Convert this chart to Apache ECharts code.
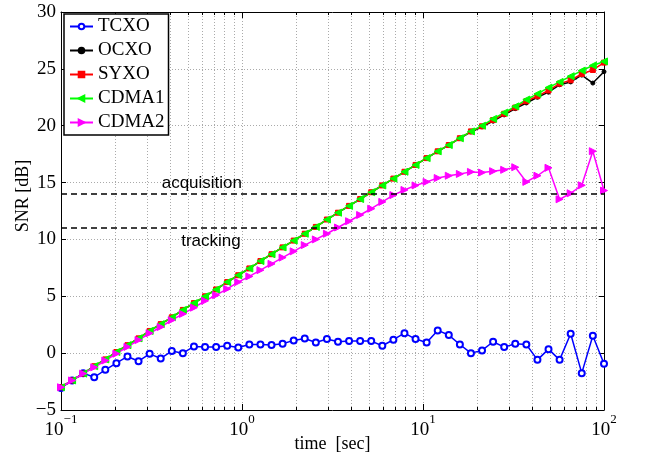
<!DOCTYPE html>
<html><head><meta charset="utf-8">
<script src="https://cdn.jsdelivr.net/npm/echarts@6/dist/echarts.min.js"></script>
<style>html,body{margin:0;padding:0;background:#fff}#c{width:645px;height:460px}</style>
</head><body><div id="c"></div>
<script>
// time samples [sec]
const times = [0.1,0.11514,0.13256,0.15262,0.17573,0.20233,0.23295,0.26821,0.30881,0.35556,
  0.40938,0.47135,0.5427,0.62485,0.71943,0.82834,0.95372,1.0981,1.2643,1.4557,
  1.676,1.9297,2.2218,2.5581,2.9453,3.3911,3.9045,4.4955,5.176,5.9594,
  6.8615,7.9001,9.096,10.473,12.058,13.883,15.985,18.404,21.19,24.398,
  28.091,32.343,37.239,42.876,49.366,56.839,65.443,75.349,86.755,100];
const tcxo = [-3.06,-2.41,-1.76,-2.12,-1.47,-0.88,-0.29,-0.71,-0.06,-0.47,
  0.18,0.0,0.59,0.53,0.53,0.65,0.5,0.76,0.76,0.71,
  0.82,1.12,1.29,0.94,1.24,1.0,1.06,1.06,1.06,0.65,
  1.18,1.76,1.24,0.94,2.0,1.59,0.76,0.0,0.24,1.0,
  0.53,0.82,0.76,-0.59,0.35,-0.59,1.71,-1.76,1.53,-0.94];
const ocxo = [-3.0,-2.4,-1.8,-1.15,-0.55,0.1,0.7,1.3,1.95,2.55,
  3.15,3.8,4.4,5.0,5.6,6.25,6.85,7.45,8.1,8.7,
  9.3,9.9,10.5,11.1,11.75,12.35,12.95,13.55,14.15,14.75,
  15.35,15.95,16.55,17.15,17.75,18.3,18.9,19.45,19.9,20.4,
  20.95,21.5,22.0,22.5,22.95,23.6,23.85,24.45,23.75,24.75];
const syxo = [-3.0,-2.4,-1.8,-1.15,-0.55,0.1,0.7,1.3,1.95,2.55,
  3.15,3.8,4.4,5.0,5.6,6.25,6.85,7.45,8.1,8.7,
  9.3,9.9,10.5,11.1,11.75,12.35,12.95,13.55,14.15,14.75,
  15.35,15.95,16.55,17.15,17.75,18.3,18.9,19.5,19.95,20.5,
  21.05,21.6,22.15,22.6,23.1,23.7,24.0,24.55,24.9,25.55];
const cdma1 = [-3.0,-2.4,-1.8,-1.15,-0.55,0.1,0.7,1.3,1.95,2.55,
  3.15,3.8,4.4,5.0,5.6,6.25,6.85,7.45,8.1,8.7,
  9.3,9.9,10.5,11.1,11.75,12.35,12.95,13.55,14.15,14.75,
  15.35,15.95,16.55,17.15,17.75,18.3,18.9,19.5,20.0,20.6,
  21.15,21.7,22.3,22.8,23.35,23.85,24.35,24.85,25.3,25.65];
const cdma2 = [-3.0,-2.4,-1.8,-1.25,-0.65,-0.05,0.55,1.15,1.75,2.3,
  2.9,3.45,4.0,4.6,5.1,5.65,6.25,6.75,7.3,7.85,
  8.4,8.95,9.5,10.0,10.5,11.05,11.6,12.15,12.7,13.3,
  13.9,14.35,14.75,15.06,15.4,15.6,15.76,15.94,15.88,16.0,
  16.12,16.35,15.06,15.6,16.3,13.53,14.06,14.76,17.76,14.3];
const seriesNames = ['TCXO','OCXO','SYXO','CDMA1','CDMA2'];
const minorX = [0.2,0.3,0.4,0.5,0.6,0.7,0.8,0.9,2,3,4,5,6,7,8,9,20,30,40,50,60,70,80,90];
const thresholds = [14, 11];
const thresholdLabels = ['acquisition', 'tracking'];
const thresholdLabelAt = [[0.6, 14.9], [0.674, 9.8]];

const serif = '"Liberation Serif", "Times New Roman", serif';
const sans = '"Liberation Sans", Arial, sans-serif';
const pairs = ys => times.map((t, i) => [t, ys[i]]);

function lineSeries(name, ys, color, symbol, size, extra) {
  return Object.assign({
    type: 'line', name: name, data: pairs(ys), symbol: symbol, symbolSize: size,
    showSymbol: true, showAllSymbol: true,
    lineStyle: { color: color, width: 1.5 },
    itemStyle: { color: color, borderColor: color, borderWidth: 1 },
    emphasis: { disabled: true }, z: 3
  }, extra || {});
}

const chart = echarts.init(document.getElementById('c'), null, { renderer: 'canvas' });
const supFmt = v => {
  const e = Math.round(Math.log10(v));
  return '{b|10}{s|' + (e < 0 ? '\u2212' + (-e) : e) + '}';
};
chart.setOption({
  animation: false,
  backgroundColor: '#fff',
  grid: { left: 61, right: 41, top: 12, bottom: 50, containLabel: false, outerBoundsMode: 'none' },
  xAxis: [{
    type: 'log', logBase: 10, min: 0.1, max: 100, position: 'bottom',
    axisLine: { onZero: false, lineStyle: { color: '#000', width: 1 } },
    axisTick: { inside: true, length: 6, lineStyle: { color: '#000' } },
    axisLabel: {
      margin: 3, formatter: supFmt,
      rich: {
        b: { fontFamily: serif, fontSize: 19, color: '#000', lineHeight: 27, verticalAlign: 'bottom' },
        s: { fontFamily: serif, fontSize: 13, color: '#000', lineHeight: 14, verticalAlign: 'top' }
      }
    },
    splitLine: { show: true, lineStyle: { color: '#aaa', type: [1, 2], width: 1 } },
    name: 'time  [sec]', nameLocation: 'middle', nameGap: 25, nameMoveOverlap: false,
    nameTextStyle: { fontFamily: serif, fontSize: 18, color: '#000' }
  }, {
    type: 'log', logBase: 10, min: 0.1, max: 100, position: 'top',
    axisLine: { onZero: false, lineStyle: { color: '#000', width: 1 } },
    axisTick: { inside: true, length: 6, lineStyle: { color: '#000' } },
    axisLabel: { show: false }, splitLine: { show: false }
  }],
  yAxis: [{
    type: 'value', min: -5, max: 30, interval: 5,
    axisLine: { show: true, onZero: false, lineStyle: { color: '#000', width: 1 } },
    axisTick: { show: true, inside: true, length: 5, lineStyle: { color: '#000' } },
    axisLabel: { fontFamily: serif, fontSize: 19, color: '#000', margin: 5,
      formatter: v => (v < 0 ? '\u2212' + (-v) : String(v)) },
    splitLine: { show: true, lineStyle: { color: '#aaa', type: [1, 2], width: 1 } }
  }, {
    type: 'value', min: -5, max: 30, interval: 5, position: 'right',
    axisLine: { show: true, onZero: false, lineStyle: { color: '#000', width: 1 } },
    axisTick: { show: true, inside: true, length: 5, lineStyle: { color: '#000' } },
    axisLabel: { show: false }, splitLine: { show: false }
  }],
  legend: {
    data: seriesNames, orient: 'vertical', left: 64, top: 14,
    padding: [3, 4, 3, 5], itemGap: 5, itemWidth: 23, itemHeight: 7,
    backgroundColor: '#fff', borderColor: '#000', borderWidth: 1.5, borderRadius: 0,
    textStyle: { fontFamily: serif, fontSize: 19, color: '#000', lineHeight: 19 },
    selectedMode: false
  },
  graphic: [{
    type: 'text', x: 23, y: 196, rotation: Math.PI / 2,
    style: { text: 'SNR [dB]', align: 'center', verticalAlign: 'middle',
      font: '18px ' + serif, fill: '#000' }
  }],
  series: [
    {
      type: 'custom', name: 'minorGrid', coordinateSystem: 'cartesian2d',
      data: minorX.map(v => [v, -5]), encode: { x: 0, y: 1 }, silent: true, z: 1,
      renderItem: (params, api) => {
        const v = api.value(0);
        const p0 = api.coord([v, -5]);
        const p1 = api.coord([v, 30]);
        const x = Math.round(p0[0]) + 0.5;
        return { type: 'group', children: [
          { type: 'line', shape: { x1: x, y1: p0[1], x2: x, y2: p1[1] },
            style: { stroke: '#aaa', lineDash: [1, 2], lineWidth: 1 } },
          { type: 'line', shape: { x1: x, y1: p0[1], x2: x, y2: p0[1] - 3 },
            style: { stroke: '#000', lineWidth: 1 } },
          { type: 'line', shape: { x1: x, y1: p1[1], x2: x, y2: p1[1] + 3 },
            style: { stroke: '#000', lineWidth: 1 } }
        ] };
      }
    },
    {
      type: 'line', name: 'thresholds', data: [], z: 2,
      markLine: {
        silent: true, symbol: ['none', 'none'], label: { show: false },
        lineStyle: { color: '#000', type: [6, 4], width: 1.5 },
        emphasis: { disabled: true },
        data: thresholds.map(v => ({ yAxis: v }))
      },
      markPoint: {
        silent: true, symbol: 'rect', symbolSize: 1,
        itemStyle: { color: 'rgba(0,0,0,0)' },
        label: { show: true, position: 'inside', formatter: p => p.name,
          fontFamily: sans, fontSize: 17, color: '#000' },
        data: thresholdLabelAt.map((c, i) => ({ name: thresholdLabels[i], coord: c }))
      }
    },
    lineSeries('TCXO', tcxo, '#0000ff', 'emptyCircle', 6, { itemStyle: { color: '#0000ff', borderColor: '#0000ff', borderWidth: 1.5 } }),
    lineSeries('OCXO', ocxo, '#000000', 'circle', 4),
    lineSeries('SYXO', syxo, '#ff0000', 'rect', 5),
    lineSeries('CDMA1', cdma1, '#00ff00', 'path://M0,5 L10,0 L10,10 Z', 7),
    lineSeries('CDMA2', cdma2, '#ff00ff', 'path://M10,5 L0,0 L0,10 Z', 7)
  ]
});
</script>
</body></html>
